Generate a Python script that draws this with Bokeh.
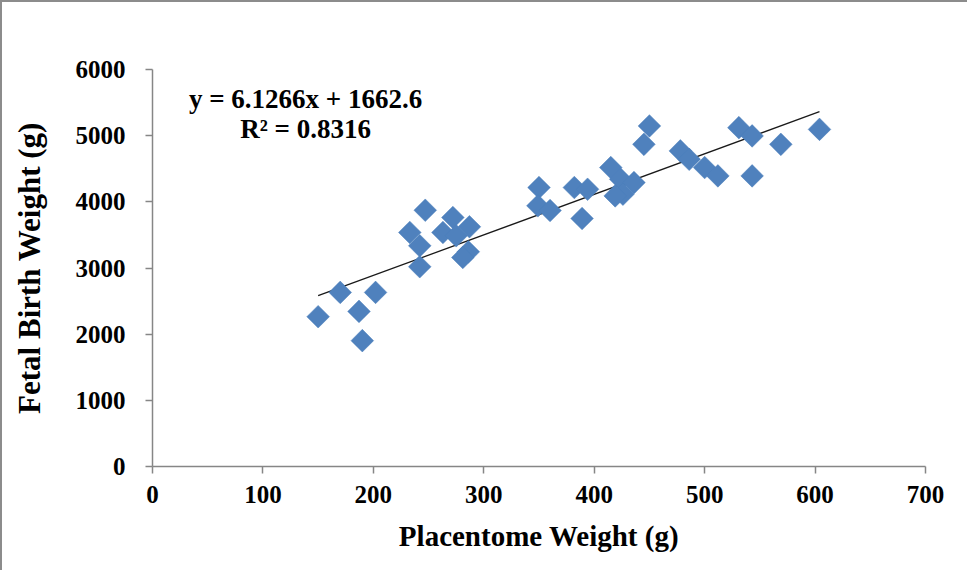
import numpy as np
from bokeh.plotting import figure
from bokeh.models import Range1d, SingleIntervalTicker, Label, ColumnDataSource
from bokeh.embed import file_html
from bokeh.resources import INLINE

# Data
placentome_weight = [150, 170, 202, 187, 190, 247, 233, 242, 242, 272, 263, 275, 287, 286, 281,
                     350, 349, 360, 382, 394, 389, 415, 424, 436, 426, 419, 450, 445, 478, 486,
                     500, 512, 531, 543, 569, 543, 604]
fetal_birth_weight = [2264, 2631, 2631, 2344, 1902, 3873, 3537, 3336, 3019, 3763, 3537, 3487, 3623, 3245, 3159,
                      4216, 3940, 3869, 4216, 4190, 3748, 4518, 4341, 4291, 4115, 4090, 5147, 4869, 4770, 4643,
                      4518, 4392, 5121, 4996, 4869, 4392, 5095]

slope = 6.1266
intercept = 1662.6
r_squared = 0.8316

x_label = "Placentome Weight (g)"
y_label = "Fetal Birth Weight (g)"

FONT = "Liberation Serif"

p = figure(width=967, height=570, output_backend="svg", toolbar_location=None,
           x_range=Range1d(0, 700), y_range=Range1d(0, 6000),
           min_border_left=150, min_border_right=44, min_border_top=67, min_border_bottom=106)
p.styles = {"border-top": "2px solid #8c8c8c", "border-left": "2px solid #8c8c8c"}

p.outline_line_color = None
p.background_fill_color = "white"
p.border_fill_color = "white"
p.grid.visible = False

# trend line (drawn over the data range)
xmin, xmax = min(placentome_weight), max(placentome_weight)
tx = [xmin, xmax]
ty = [slope * v + intercept for v in tx]
p.line(tx, ty, line_color="#1a1a1a", line_width=1.3)

src = ColumnDataSource(dict(x=placentome_weight, y=fetal_birth_weight))
p.scatter("x", "y", source=src, marker="square", angle=np.pi / 4, size=16,
          fill_color="#4F81BD", line_color="#4A7EBB", line_width=0.5)

for ax, tick in ((p.xaxis, 100), (p.yaxis, 1000)):
    ax.ticker = SingleIntervalTicker(interval=tick)
    ax.axis_line_color = "#868686"
    ax.axis_line_width = 1.5
    ax.major_tick_line_color = "#868686"
    ax.major_tick_line_width = 1.5
    ax.major_tick_out = 7
    ax.major_tick_in = 0
    ax.minor_tick_line_color = None
    ax.major_label_text_font = FONT
    ax.major_label_text_font_style = "bold"
    ax.major_label_text_font_size = "25px"
    ax.major_label_text_color = "black"
    ax.axis_label_text_font = FONT
    ax.axis_label_text_font_style = "bold"
    ax.axis_label_text_color = "black"

p.xaxis.axis_label = x_label
p.yaxis.axis_label = y_label
p.xaxis.axis_label_text_font_size = "29px"
p.yaxis.axis_label_text_font_size = "31px"
p.xaxis.major_label_standoff = 12
p.xaxis.axis_label_standoff = 14
p.yaxis.major_label_standoff = 20
p.yaxis.axis_label_standoff = 26

p.add_layout(Label(x=138.6, y=5552, text=f"y = {slope}x + {intercept}", text_align="center",
                   text_baseline="middle", text_font=FONT, text_font_style="bold",
                   text_font_size="27px", text_color="black"))
p.add_layout(Label(x=138.6, y=5106, text=f"R² = {r_squared}", text_align="center",
                   text_baseline="middle", text_font=FONT, text_font_style="bold",
                   text_font_size="27px", text_color="black"))

open("out.html", "w").write(file_html(p, INLINE))
